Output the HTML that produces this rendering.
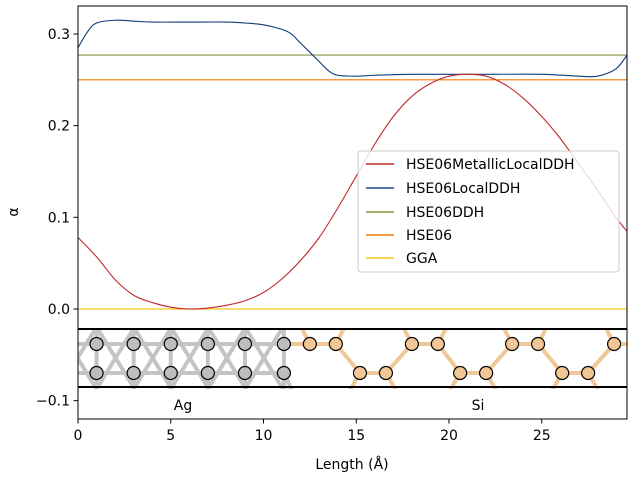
<!DOCTYPE html>
<html><head><meta charset="utf-8"><style>
body{margin:0;background:#fff;}
svg text{font-family:"DejaVu Sans","Liberation Sans",sans-serif;}
</style></head><body>
<svg id="chart" width="640" height="480" xmlns="http://www.w3.org/2000/svg">
<rect width="640" height="480" fill="#fff"/>
<defs><clipPath id="plotclip"><rect x="78" y="6" width="549" height="413"/></clipPath>
<clipPath id="bandclip"><rect x="78" y="329" width="549" height="60"/></clipPath></defs>
<g id="structure" clip-path="url(#bandclip)"></g>
<g id="curves" clip-path="url(#plotclip)"></g>
<rect x="78" y="6" width="549" height="413" fill="none" stroke="#000" stroke-width="1"/>
<g id="axes"></g>
<text x="352" y="469" font-size="14" text-anchor="middle">Length (Å)</text>
<text x="18" y="212" font-size="14" text-anchor="middle" transform="rotate(-90 18 212)">α</text>
<text x="183" y="410" font-size="14" text-anchor="middle">Ag</text>
<text x="478" y="410" font-size="14" text-anchor="middle">Si</text>
<g>
<rect x="358" y="151" width="261" height="121" rx="3" fill="#fff" fill-opacity="0.8" stroke="#ccc"/>
<line x1="366" x2="394" y1="164" y2="164" stroke="#c0282d" stroke-width="1.5"/><text x="406" y="169" font-size="14">HSE06MetallicLocalDDH</text>
<line x1="366" x2="394" y1="188" y2="188" stroke="#1a4a85" stroke-width="1.5"/><text x="406" y="193" font-size="14">HSE06LocalDDH</text>
<line x1="366" x2="394" y1="212" y2="212" stroke="#7f9a40" stroke-width="1.5"/><text x="406" y="217" font-size="14">HSE06DDH</text>
<line x1="366" x2="394" y1="235" y2="235" stroke="#f07d00" stroke-width="1.5"/><text x="406" y="240" font-size="14">HSE06</text>
<line x1="366" x2="394" y1="258" y2="258" stroke="#f5c518" stroke-width="1.5"/><text x="406" y="263" font-size="14">GGA</text>
</g>
</svg>
<script>
const xTicks=[0,5,10,15,20,25];
const yTicks=[-0.1,0.0,0.1,0.2,0.3];
const yTickLabels=["−0.1","0.0","0.1","0.2","0.3"];
const metallicX=[0,1,2,3,4,5,6,7,8,9,10,11,12,13,14,15,16,17,18,19,20,21,22,23,24,25,26,27,28,29,29.7];
const metallicY=[0.078,0.057,0.032,0.015,0.007,0.002,0.0,0.001,0.004,0.009,0.018,0.033,0.053,0.078,0.11,0.145,0.18,0.21,0.232,0.246,0.254,0.256,0.254,0.245,0.23,0.21,0.186,0.158,0.13,0.1,0.082];
const localX=[0,0.5,1,2,3,4,6,8,9,10,11,11.5,12,13,13.5,14,15,16,18,22,25,27,28,29,29.7];
const localY=[0.285,0.302,0.312,0.315,0.314,0.313,0.313,0.313,0.312,0.31,0.305,0.3,0.29,0.27,0.26,0.255,0.254,0.255,0.256,0.256,0.256,0.254,0.254,0.262,0.28];
const ddhValue=[0.277];
const hse06Value=[0.25];
const ggaValue=[0.0];
const agX=[1,3,5,7,9,11.1];
const siTopX=[12.5,13.9,18,19.4,23.4,24.8,28.9];
const siBotX=[15.2,16.6,20.6,22,26.1,27.5];
const X0=78,XS=18.55,Y0=309,YS=916.7;
const sx=v=>X0+v*XS, sy=v=>Y0-v*YS;
const NS='http://www.w3.org/2000/svg';
function mk(tag,attrs,parent){const e=document.createElementNS(NS,tag);for(const k in attrs)e.setAttribute(k,attrs[k]);parent.appendChild(e);return e;}
const axes=document.getElementById('axes');
xTicks.forEach(t=>{
 const l=mk('line',{x1:sx(t),x2:sx(t),y1:419,y2:423.5,stroke:'#000'},axes);
 
 
 const tx=mk('text',{x:sx(t),y:440,'font-size':14,'text-anchor':'middle'},axes);tx.textContent=t;
 
 
});
yTicks.forEach((t,i)=>{
 const l=mk('line',{x1:73.5,x2:78,y1:sy(t),y2:sy(t),stroke:'#000'},axes);
 
 
 const tx=mk('text',{x:70,y:sy(t)+5,'font-size':14,'text-anchor':'end'},axes);tx.textContent=yTickLabels[i];
 
 
});
const st=document.getElementById('structure');
const yT=344,yB=373,yTop=329,yBot=387;
const gray='#c4c4c4',tan='#f0c898';
const gl=(x1,y1,x2,y2,c)=>{const l=mk('line',{x1,y1,x2,y2,stroke:c,'stroke-width':4},st);};
gl(78,yT,sx(11.1),yT,gray);gl(78,yB,sx(11.1),yB,gray);
agX.forEach(a=>{gl(sx(a),yTop,sx(a),yBot+4,gray);});
for(let i=-1;i<agX.length-1;i++){const c=i<0?sx(agX[0])-19:sx(agX[i])+19;
 gl(c-19,yTop-2,c+19,yBot+2,gray);gl(c+19,yTop-2,c-19,yBot+2,gray);}
for(let i=0;i+1<siTopX.length;i+=2)gl(sx(siTopX[i]),yT,sx(siTopX[i+1]),yT,tan);
for(let i=0;i+1<siBotX.length;i+=2)gl(sx(siBotX[i]),yB,sx(siBotX[i+1]),yB,tan);
gl(sx(siTopX[6]),yT,640,yT,tan);
for(let i=0;i<siBotX.length;i+=2){
 gl(sx(siTopX[i+1]),yT,sx(siBotX[i]),yB,tan);
 gl(sx(siBotX[i+1]),yB,sx(siTopX[i+2]),yT,tan);
 gl(sx(siBotX[i]),yB,sx(siBotX[i])-14,yBot+10,tan);
 gl(sx(siBotX[i+1]),yB,sx(siBotX[i+1])+14,yBot+10,tan);
}
for(let i=0;i<siTopX.length;i+=2){gl(sx(siTopX[i]),yT,sx(siTopX[i])-14,yTop-12,tan);if(i+1<siTopX.length)gl(sx(siTopX[i+1]),yT,sx(siTopX[i+1])+14,yTop-12,tan);}
gl(sx(11.1),yB,sx(11.1)+12,yBot+12,gray);
gl(sx(11.1),yT,sx(12.5),yT,tan);
const atom=(x,y,c)=>{const e=mk('circle',{cx:x,cy:y,r:6.5,fill:c,stroke:'#000','stroke-width':1.2},st);};
agX.forEach(a=>{atom(sx(a),yT,'#bdbdbd');atom(sx(a),yB,'#bdbdbd');});
siTopX.forEach(a=>atom(sx(a),yT,'#f2c795'));
siBotX.forEach(a=>atom(sx(a),yB,'#f2c795'));
const cv=document.getElementById('curves');
mk('line',{x1:78,x2:627,y1:yTop,y2:yTop,stroke:'#000','stroke-width':2},cv);
mk('line',{x1:78,x2:627,y1:yBot,y2:yBot,stroke:'#000','stroke-width':2},cv);
function smooth(xs,ys){const P=xs.map((x,i)=>[sx(x),sy(ys[i])]);let d='M'+P[0][0]+','+P[0][1];
 for(let i=0;i<P.length-1;i++){const p0=P[i-1]||P[i],p1=P[i],p2=P[i+1],p3=P[i+2]||P[i+1];
  d+=' C'+(p1[0]+(p2[0]-p0[0])/6)+','+(p1[1]+(p2[1]-p0[1])/6)+' '+(p2[0]-(p3[0]-p1[0])/6)+','+(p2[1]-(p3[1]-p1[1])/6)+' '+p2[0]+','+p2[1];}
 return d;}
const hl=(v,c,n)=>{const l=mk('line',{x1:78,x2:627,y1:sy(v),y2:sy(v),stroke:c,'stroke-width':1.2},cv);};
hl(ggaValue[0],'#f5c518','gga-line');
hl(hse06Value[0],'#f07d00','hse06-line');
hl(ddhValue[0],'#7f9a40','ddh-line');
const p1=mk('path',{d:smooth(localX,localY),fill:'none',stroke:'#0e3d78','stroke-width':1.1},cv);


const p2=mk('path',{d:smooth(metallicX,metallicY),fill:'none',stroke:'#c0282d','stroke-width':1.1},cv);


</script>
</body></html>
